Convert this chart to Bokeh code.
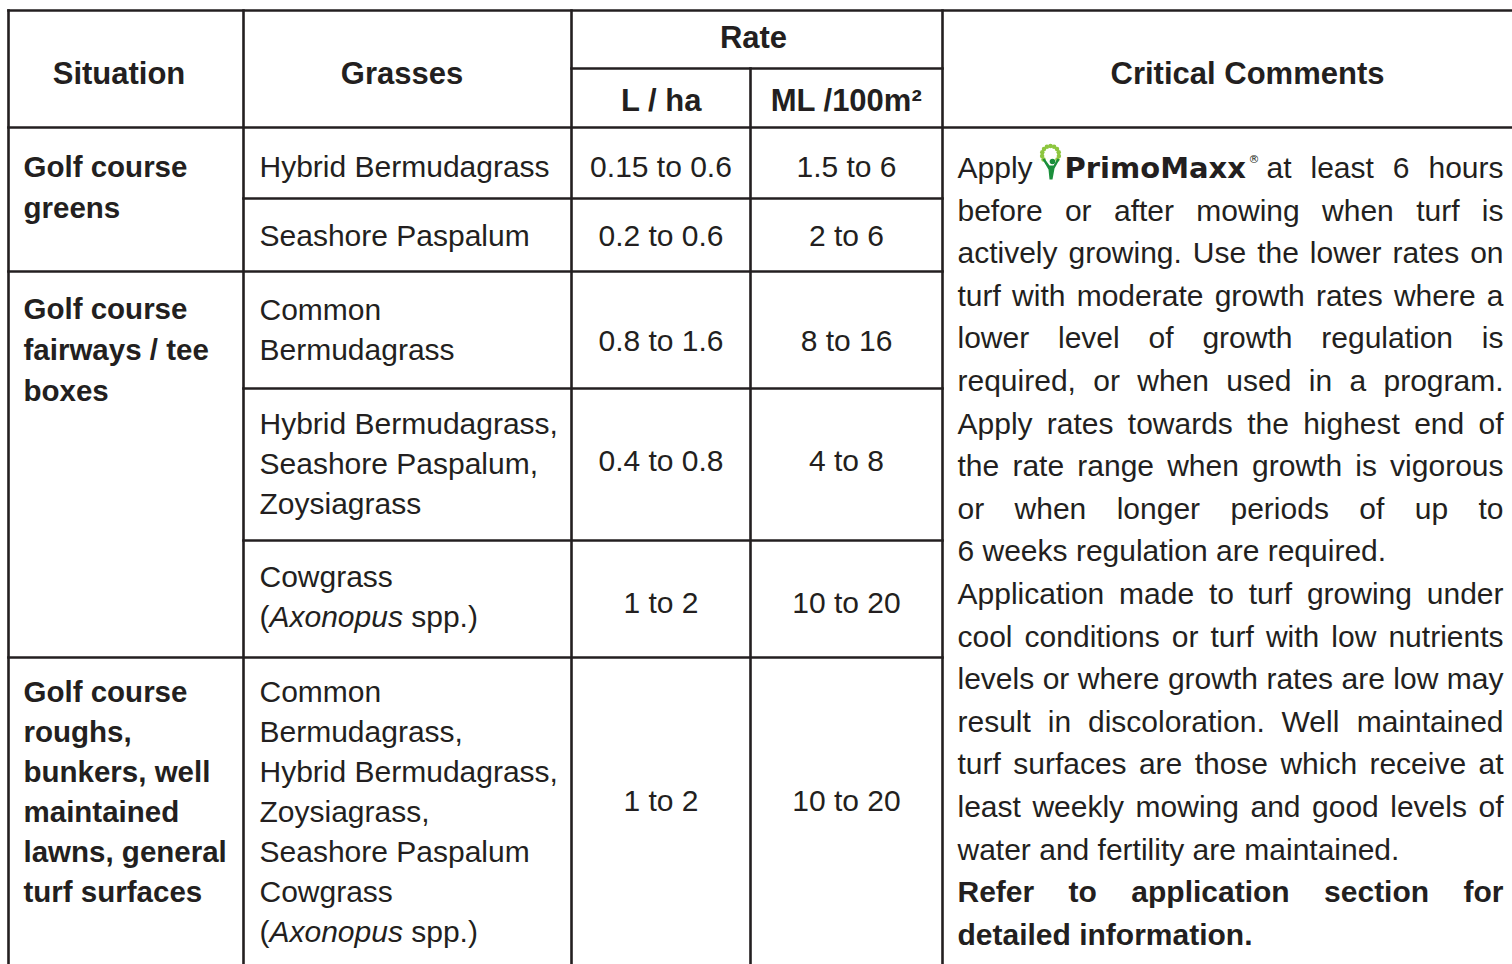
import math
from bokeh.plotting import figure
from bokeh.models import Range1d, ColumnDataSource
from bokeh.core.properties import value
from bokeh.embed import file_html
from bokeh.resources import INLINE

# ---------------- data ----------------
header_text = ["Situation", "Grasses", "Rate", "L / ha", "ML /100m\u00b2", "Critical Comments"]

situations = [
    ["Golf course", "greens"],
    ["Golf course", "fairways / tee", "boxes"],
    ["Golf course", "roughs,", "bunkers, well", "maintained", "lawns, general", "turf surfaces"],
]

grasses = [
    ["Hybrid Bermudagrass"],
    ["Seashore Paspalum"],
    ["Common", "Bermudagrass"],
    ["Hybrid Bermudagrass,", "Seashore Paspalum,", "Zoysiagrass"],
    ["Cowgrass", "(_Axonopus_ spp.)"],
    ["Common", "Bermudagrass,", "Hybrid Bermudagrass,", "Zoysiagrass,",
     "Seashore Paspalum", "Cowgrass", "(_Axonopus_ spp.)"],
]

rate_l_ha = ["0.15 to 0.6", "0.2 to 0.6", "0.8 to 1.6", "0.4 to 0.8", "1 to 2", "1 to 2"]
rate_ml_100m2 = ["1.5 to 6", "2 to 6", "8 to 16", "4 to 8", "10 to 20", "10 to 20"]

comment_intro = "Apply"
brand_name = "PrimoMaxx"
brand_mark = "\u00ae"
comment_first_rest = "at least 6 hours"
comment_lines = [
    "before or after mowing when turf is",
    "actively growing. Use the lower rates on",
    "turf with moderate growth rates where a",
    "lower level of growth regulation is",
    "required, or when used in a program.",
    "Apply rates towards the highest end of",
    "the rate range when growth is vigorous",
    "or when longer periods of up to",
    "6 weeks regulation are required.",
    "Application made to turf growing under",
    "cool conditions or turf with low nutrients",
    "levels or where growth rates are low may",
    "result in discoloration. Well maintained",
    "turf surfaces are those which receive at",
    "least weekly mowing and good levels of",
    "water and fertility are maintained.",
    "Refer to application section for",
    "detailed information.",
]
comment_styles = ["j"] * 8 + ["l"] + ["j"] * 6 + ["l"] + ["bj", "bl"]

# ---------------- layout ----------------
FONT = "Liberation Sans"
INK = "#231f20"
SIZE = 30
SIT_SIZE = 29.5
HEAD_SIZE = 31
SHIFT = -11  # text anchor offset (text centers sit on the anchor)

col_edges = [8, 243, 571, 750, 942, 1512]
top_y, rate_split_y, head_bottom_y, bottom_y = 10, 68, 127, 964
row_edges = [127, 198, 271, 388, 540, 657, 964]
situation_rows = [(0, 2), (2, 5), (5, 6)]

header_x = [118.5, 401.5, 753, 661, 846, 1247]
header_base = [84, 84, 48, 111, 111, 84]

sit_x, sit_base, sit_step = 23, [177, 319, 702], [41, 41, 40]
grass_x, grass_base, grass_step = 259, [177, 246, 320, 434, 587, 702], 40
rate_base = [177, 246, 351, 471, 613, 811]
com_x0, com_x1, com_base0, com_step = 957, 1503, 178, 42.6

# Arial-compatible advance widths (1/1000 em)
LOW_R = [556, 556, 500, 556, 556, 278, 556, 556, 222, 222, 500, 222, 833, 556, 556, 556, 556, 333, 500, 278, 556, 500, 722, 500, 500, 500]
UP_R = [667, 667, 722, 722, 667, 611, 778, 722, 278, 500, 667, 556, 833, 722, 778, 667, 778, 722, 667, 611, 722, 667, 944, 667, 667, 611]
LOW_B = [556, 611, 556, 611, 556, 333, 611, 611, 278, 278, 556, 278, 889, 611, 611, 611, 611, 389, 556, 333, 611, 556, 778, 556, 556, 500]
UP_B = [722, 722, 722, 722, 667, 611, 778, 722, 278, 556, 722, 611, 833, 722, 778, 667, 778, 722, 667, 611, 722, 667, 944, 667, 667, 611]
PUNCT = {" ": 278, ",": 278, ".": 278, "/": 278, "(": 333, ")": 333, "-": 333, "\u00b2": 333}
W_R = dict(zip("abcdefghijklmnopqrstuvwxyz", LOW_R)); W_R.update(zip("ABCDEFGHIJKLMNOPQRSTUVWXYZ", UP_R)); W_R.update(PUNCT)
W_B = dict(zip("abcdefghijklmnopqrstuvwxyz", LOW_B)); W_B.update(zip("ABCDEFGHIJKLMNOPQRSTUVWXYZ", UP_B)); W_B.update(PUNCT)


def tw(s, bold=False, size=SIZE):
    tbl = W_B if bold else W_R
    return sum(tbl.get(c, 556) for c in s) * size / 1000.0


groups = {}


def put(x, y, t, style="normal", align="left", size=SIZE, font=FONT, color=INK):
    key = (font, style, align, size, color)
    g = groups.setdefault(key, {"x": [], "y": [], "text": []})
    g["x"].append(x); g["y"].append(y + SHIFT); g["text"].append(t)


def put_rich(x, y, t, size=SIZE):
    parts = t.split("_")
    for i, seg in enumerate(parts):
        if not seg:
            continue
        st = "italic" if i % 2 == 1 else "normal"
        lead = len(seg) - len(seg.lstrip(" "))
        x += tw(" " * lead, size=size)
        seg = seg.lstrip(" ")
        put(x, y, seg, style=st, size=size)
        x += tw(seg, size=size)


def put_justified(x0, x1, y, t, bold=False, size=SIZE):
    words = t.split(" ")
    ws = [tw(w, bold, size) for w in words]
    gap = (x1 - x0 - sum(ws)) / max(len(words) - 1, 1)
    st = "bold" if bold else "normal"
    x = x0
    for w, wd in zip(words[:-1], ws[:-1]):
        put(x, y, w, style=st, size=size)
        x += wd + gap
    put(x1, y, words[-1], style=st, align="right", size=size)


p = figure(width=1512, height=964, x_range=Range1d(0, 1512), y_range=Range1d(964, 0),
           output_backend="svg", toolbar_location=None, x_axis_type=None, y_axis_type=None,
           min_border=0, outline_line_color=None, background_fill_color="white")

# ---------------- grid lines ----------------
x0s, y0s, x1s, y1s = [], [], [], []
for y in (top_y, head_bottom_y):
    x0s.append(col_edges[0]); x1s.append(col_edges[-1]); y0s.append(y); y1s.append(y)
x0s.append(col_edges[2]); x1s.append(col_edges[4]); y0s.append(rate_split_y); y1s.append(rate_split_y)
for i, xe in enumerate(col_edges[:-1]):
    x0s.append(xe); x1s.append(xe)
    y0s.append(rate_split_y if i == 3 else top_y); y1s.append(bottom_y)
sit_bounds = {row_edges[b] for (_, b) in situation_rows}
for y in row_edges[1:-1]:
    x0s.append(col_edges[0] if y in sit_bounds else col_edges[1]); x1s.append(col_edges[4])
    y0s.append(y); y1s.append(y)
p.segment(x0="x0", y0="y0", x1="x1", y1="y1",
          source=ColumnDataSource(dict(x0=x0s, y0=y0s, x1=x1s, y1=y1s)),
          line_width=2.6, line_color=INK, line_cap="square")

# ---------------- header ----------------
for t, x, y in zip(header_text, header_x, header_base):
    put(x, y, t, style="bold", align="center", size=HEAD_SIZE)

# ---------------- body ----------------
for lines, b, s in zip(situations, sit_base, sit_step):
    for k, t in enumerate(lines):
        put(sit_x, b + k * s, t, style="bold", size=SIT_SIZE)

for lines, b in zip(grasses, grass_base):
    for k, t in enumerate(lines):
        put_rich(grass_x, b + k * grass_step, t)

cx_l = (col_edges[2] + col_edges[3]) / 2
cx_m = (col_edges[3] + col_edges[4]) / 2
for a, m, b in zip(rate_l_ha, rate_ml_100m2, rate_base):
    put(cx_l, b, a, align="center")
    put(cx_m, b, m, align="center")

# ---------------- comments ----------------
put(com_x0, com_base0, comment_intro)
brand_x = 1064
put(brand_x, com_base0, brand_name, style="bold", size=29, font="DejaVu Sans")
put(brand_x + 184, com_base0 - 8, brand_mark, size=11, font="DejaVu Sans")
put_justified(brand_x + 202, com_x1, com_base0, comment_first_rest)

for k, (t, st) in enumerate(zip(comment_lines, comment_styles)):
    y = com_base0 + (k + 1) * com_step
    bold = st.startswith("b")
    if st.endswith("j"):
        put_justified(com_x0, com_x1, y, t, bold=bold)
    else:
        put(com_x0, y, t, style="bold" if bold else "normal")

# logo (small green figure holding a ring)
lx, ly = brand_x - 14, com_base0 - 24
ang = [math.radians(215 - k * 25) for k in range(11)]
p.scatter([lx + 8.5 * math.cos(a) for a in ang], [ly - 8.5 * math.sin(a) for a in ang],
          size=4.5, color="#8dc63f", line_color=None)
body_dx = [-8, -6, -1, 3, 7, 9, 4, 2, -1, -2]
body_dy = [5, 4, 11, 11, 4, 5, 14, 25, 25, 15]
p.patch([lx + d for d in body_dx], [ly + d for d in body_dy], color="#1b8f3c", line_color=None)
p.circle([lx + 2], [ly + 7], radius=2.8, color="#1b8f3c", line_color=None)

for (font, style, align, size, color), g in groups.items():
    p.text(x="x", y="y", text="text", source=ColumnDataSource(g),
           text_font=value(font), text_font_style=style, text_align=align,
           text_baseline="alphabetic", text_font_size=f"{size}px", text_color=color)

open("out.html", "w").write(file_html(p, INLINE))
